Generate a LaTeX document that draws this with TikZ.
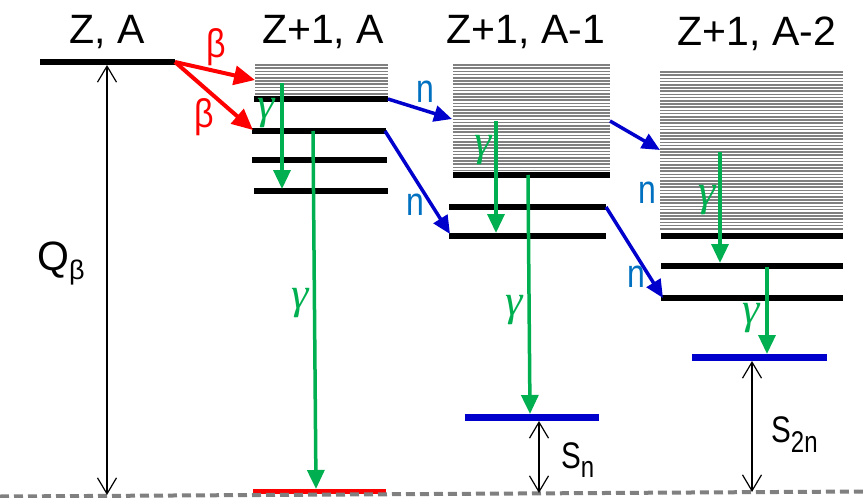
\documentclass[tikz,border=0pt]{standalone}
\usepackage{fontspec}
\setmainfont{Liberation Sans}
\newfontfamily\gfont{Liberation Serif}
\usetikzlibrary{arrows.meta}
\definecolor{myred}{HTML}{FF0000}
\definecolor{mygreen}{HTML}{00B050}
\definecolor{myblue}{HTML}{0000CC}
\definecolor{nblue}{HTML}{0070C0}
\definecolor{hatchgray}{HTML}{808080}
\tikzset{
  lvl/.style={line width=6pt, black},
  blvl/.style={line width=7pt, myblue},
  rlvl/.style={line width=5pt, myred},
  gamarrow/.style={mygreen, line width=3.5pt, -{Triangle[length=19pt,width=17pt]}},
  betaarrow/.style={myred, line width=4pt, -{Triangle[length=21pt,width=19pt]}},
  narrow/.style={myblue, line width=3.5pt, -{Triangle[length=18pt,width=16pt]}},
  dimarrow/.style={black, line width=1.2pt, {Straight Barb[length=16pt,width=19pt]}-{Straight Barb[length=16pt,width=19pt]}},
  hatchline/.style={hatchgray, line width=1.6pt},
  toplabel/.style={inner sep=0pt, anchor=base, font=\fontsize{41}{48}\selectfont},
  glabel/.style={inner sep=0pt, mygreen, font=\gfont\itshape\fontsize{44}{50}\selectfont},
  blabel/.style={inner sep=0pt, myred, xscale=0.85, font=\fontsize{40}{46}\selectfont},
  nlabel/.style={inner sep=0pt, nblue, xscale=0.8, font=\fontsize{40}{46}\selectfont},
}
\begin{document}
\begin{tikzpicture}[x=1pt,y=-1pt]
\useasboundingbox (0,0) rectangle (863,498);

% hatched continua
\foreach \y in {65,68.2,...,95.5} \draw[hatchline] (255,\y) -- (388,\y);
\foreach \y in {65,68.2,...,171} \draw[hatchline] (453,\y) -- (610,\y);
\foreach \y in {72,75.2,...,231} \draw[hatchline] (660,\y) -- (843,\y);

% levels
\draw[lvl] (40,62) coordinate (za-l) -- (175,62) coordinate (za-r);
\draw[lvl] (254,99) coordinate (a1-l) -- (388,99) coordinate (a1-r);
\draw[lvl] (252,131) coordinate (a2-l) -- (386,131) coordinate (a2-r);
\draw[lvl] (252,160) coordinate (a3-l) -- (387,160) coordinate (a3-r);
\draw[lvl] (254,191) coordinate (a4-l) -- (388,191) coordinate (a4-r);
\draw[rlvl] (253,491) coordinate (ag-l) -- (386,491) coordinate (ag-r);
\draw[lvl] (453,175) coordinate (b1-l) -- (610,175) coordinate (b1-r);
\draw[lvl] (449,207) coordinate (b2-l) -- (606,207) coordinate (b2-r);
\draw[lvl] (449,236) coordinate (b3-l) -- (606,236) coordinate (b3-r);
\draw[blvl] (465,417) coordinate (bg-l) -- (599,417) coordinate (bg-r);
\draw[lvl] (661,236) coordinate (c1-l) -- (843,236) coordinate (c1-r);
\draw[lvl] (661,266) coordinate (c2-l) -- (843,266) coordinate (c2-r);
\draw[lvl] (661,298) coordinate (c3-l) -- (843,298) coordinate (c3-r);
\draw[blvl] (692,357) coordinate (cg-l) -- (827,357) coordinate (cg-r);

% base line
\coordinate (bl) at (0,496.5);
\coordinate (br) at (863,491.5);
\draw[hatchgray, line width=4pt, dash pattern=on 9pt off 5pt] (bl) -- (br);

% labels on top
\node[toplabel] (tza) at (107,43) {Z, A};
\node[toplabel] (tz1) at (323,43) {Z+1, A};
\node[toplabel] (tz2) at (526,43) {Z+1, A-1};
\node[toplabel] (tz3) at (757,45) {Z+1, A-2};

% beta decays
\coordinate (bt1) at (255,80);
\coordinate (bt2) at (253,130);
\draw[betaarrow] (za-r) -- (bt1);
\draw[betaarrow] (za-r) -- (bt2);
\node[blabel] (beta1) at (216,47) {β};
\node[blabel] (beta2) at (204,117) {β};

% neutron emissions
\coordinate (ns1) at (388,99);
\coordinate (nt1) at (452,119);
\coordinate (ns2) at (385,131);
\coordinate (nt2) at (450,234);
\coordinate (ns3) at (610,121);
\coordinate (nt3) at (660,150);
\coordinate (ns4) at (606,207);
\coordinate (nt4) at (663,298);
\draw[narrow] (ns1) -- (nt1);
\draw[narrow] (ns2) -- (nt2);
\draw[narrow] (ns3) -- (nt3);
\draw[narrow] (ns4) -- (nt4);
\node[nlabel] (n1) at (425,92) {n};
\node[nlabel] (n2) at (415,205) {n};
\node[nlabel] (n3) at (647,193) {n};
\node[nlabel] (n4) at (636,277) {n};

% gamma transitions
\coordinate (gs1) at (282,83);   \coordinate (ge1) at (282,189);
\coordinate (gs2) at (313,131);  \coordinate (ge2) at (316,489);
\coordinate (gs3) at (496,121);  \coordinate (ge3) at (496,233);
\coordinate (gs4) at (528,175);  \coordinate (ge4) at (530,414);
\coordinate (gs5) at (720,152);  \coordinate (ge5) at (720,263);
\coordinate (gs6) at (767,267);  \coordinate (ge6) at (767,354);
\draw[gamarrow] (gs1) -- (ge1);
\draw[gamarrow] (gs2) -- (ge2);
\draw[gamarrow] (gs3) -- (ge3);
\draw[gamarrow] (gs4) -- (ge4);
\draw[gamarrow] (gs5) -- (ge5);
\draw[gamarrow] (gs6) -- (ge6);
\node[glabel] (g1) at (266,113) {γ};
\node[glabel] (g2) at (300,303) {γ};
\node[glabel] (g3) at (483,150) {γ};
\node[glabel] (g4) at (514,310) {γ};
\node[glabel] (g5) at (707,200) {γ};
\node[glabel] (g6) at (751,318) {γ};

% energy differences
\coordinate (qt) at (107,65);
\coordinate (qb) at (107,495);
\coordinate (snt) at (539,421);
\coordinate (snb) at (539,493);
\coordinate (s2t) at (752,361);
\coordinate (s2b) at (752,492);
\draw[dimarrow] (qt) -- (qb);
\draw[dimarrow] (snt) -- (snb);
\draw[dimarrow] (s2t) -- (s2b);

\node[inner sep=0pt, anchor=base west, font=\fontsize{41}{48}\selectfont] (qlab) at (37,270)
  {Q\raisebox{-9pt}{\fontsize{27}{30}\selectfont β}};
\node[inner sep=0pt, anchor=base west, xscale=0.8, font=\fontsize{37}{44}\selectfont] (snlab) at (561,468)
  {S\raisebox{-9pt}{\fontsize{30}{34}\selectfont n}};
\node[inner sep=0pt, anchor=base west, xscale=0.8, font=\fontsize{37}{44}\selectfont] (s2lab) at (771,442)
  {S\raisebox{-10pt}{\fontsize{30}{34}\selectfont 2n}};
\end{tikzpicture}
\end{document}
